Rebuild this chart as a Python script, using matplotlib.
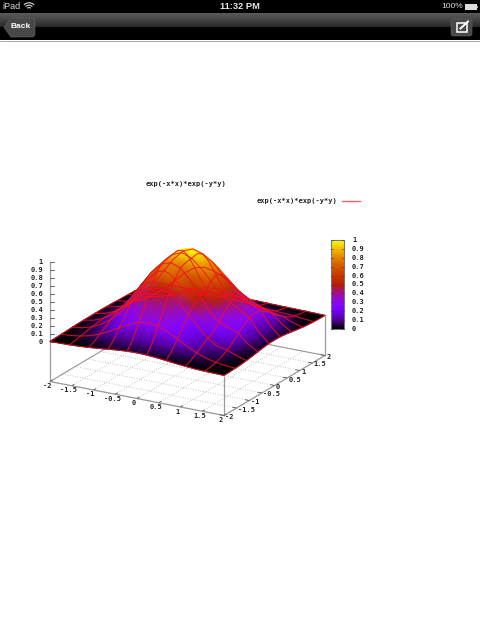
import numpy as np
import matplotlib
matplotlib.use("Agg")
import matplotlib.pyplot as plt
from matplotlib.colors import LinearSegmentedColormap
from matplotlib.patches import Arc, FancyBboxPatch, Polygon, Rectangle
from matplotlib.tri import Triangulation

# profiles read off the plot along one axis from -2 to 2, step 2/9
# across a crest the surface falls fast, along it towards the front corner it falls slowly
narrow_profile = [0.018, 0.042, 0.089, 0.169, 0.291, 0.454, 0.641, 0.821, 0.952, 1.0,
                  0.952, 0.821, 0.641, 0.454, 0.291, 0.169, 0.089, 0.042, 0.018]
height_left = [0.018, 0.042, 0.089, 0.169, 0.291, 0.454, 0.641, 0.821, 0.952, 1.0,
               0.99, 0.98, 0.95, 0.84, 0.71, 0.53, 0.36, 0.19, 0.07]
height_right = [0.018, 0.042, 0.089, 0.169, 0.291, 0.454, 0.641, 0.821, 0.952, 1.0,
                0.96, 0.88, 0.74, 0.60, 0.51, 0.43, 0.36, 0.19, 0.07]
# palette level seen at the same places, it jumps across the second crest on the left
colour_left = [0.018, 0.042, 0.089, 0.169, 0.291, 0.454, 0.641, 0.821, 0.952, 1.0,
               0.96, 0.88, 0.80, 0.74, 0.50, 0.40, 0.30, 0.12, 0.03]
colour_right = [0.018, 0.042, 0.089, 0.169, 0.291, 0.454, 0.641, 0.821, 0.952, 1.0,
                0.96, 0.86, 0.72, 0.58, 0.45, 0.38, 0.30, 0.12, 0.03]
xy_ticks = [-2, -1.5, -1, -0.5, 0, 0.5, 1, 1.5, 2]
xy_tick_labels = ["-2", "-1.5", "-1", "-0.5", "0", "0.5", "1", "1.5", "2"]
z_ticks = [0, 0.1, 0.2, 0.3, 0.4, 0.5, 0.6, 0.7, 0.8, 0.9, 1]
z_tick_labels = ["0", "0.1", "0.2", "0.3", "0.4", "0.5", "0.6", "0.7", "0.8", "0.9", "1"]
palette_stops = [0, 0.1, 0.2, 0.25, 0.3, 0.4, 0.5, 0.6, 0.7, 0.8, 0.9, 1]
palette_colors = [
    (0, 0, 0), (0.32, 0, 0.59), (0.45, 0.01, 0.95), (0.5, 0.02, 1), (0.55, 0.03, 0.95),
    (0.63, 0.06, 0.59), (0.71, 0.125, 0), (0.775, 0.22, 0), (0.84, 0.34, 0),
    (0.89, 0.51, 0), (0.95, 0.73, 0), (1, 1, 0),
]
title_text = "exp(-x*x)*exp(-y*y)"

mono = "DejaVu Sans Mono"
ui = "Liberation Sans"
grey = "#9a9a9a"
red = "#f01020"
tick_size = 5.0

cmap = LinearSegmentedColormap.from_list("pm3d", list(zip(palette_stops, palette_colors)), N=512)


def project(x, y, z):
    # gnuplot view 60,30 as it lands on this screenshot, in screen pixels
    x, y, z = np.asarray(x, float), np.asarray(y, float), np.asarray(z, float)
    return 50 + (x + 2) * 43.5 + (y + 2) * 25.25, 341.5 + (x + 2) * 8.5 - (y + 2) * 15 - z * 80


fig = plt.figure(figsize=(4.8, 6.41), dpi=100)
ax = fig.add_axes([0, 0, 1, 1])


def line3(xs, ys, zs, **kw):
    px, py = project(xs, ys, zs)
    ax.plot(px, py, solid_capstyle="butt", **kw)


# y runs the other way round: y=-2 is the front edge
Z = np.maximum(np.outer(height_left[::-1], narrow_profile), np.outer(narrow_profile, height_right))
C = np.maximum(np.outer(colour_left[::-1], narrow_profile), np.outer(narrow_profile, colour_right))
n = Z.shape[0]
grid = np.linspace(-2, 2, n)
X, Y = np.meshgrid(grid, grid)
base = -0.5

# dotted floor grid first
for t in xy_ticks:
    line3([t, t], [-2, 2], [base, base], color="#b4b4b4", lw=0.6, ls=(0, (1, 2)), zorder=1)
    line3([-2, 2], [t, t], [base, base], color="#b4b4b4", lw=0.6, ls=(0, (1, 2)), zorder=1)

# box edges
line3([-2, 2, 2], [-2, -2, 2], [base, base, base], color=grey, lw=0.9, zorder=2)
line3([-2, -2, 2], [-2, 2, 2], [base, base, base], color=grey, lw=0.8, zorder=2)
line3([-2, -2], [-2, -2], [base, 1], color=grey, lw=0.9, zorder=2)
line3([2, 2], [-2, -2], [base, 0], color=grey, lw=0.9, zorder=2)
line3([2, 2], [2, 2], [base, 0], color=grey, lw=0.9, zorder=2)

for t, lab in zip(xy_ticks, xy_tick_labels):
    line3([t, t], [-2, -1.9], [base, base], color="#555555", lw=0.6, zorder=2)
    line3([2, 1.9], [t, t], [base, base], color="#555555", lw=0.6, zorder=2)
    px, py = project(t, -2, base)
    ax.text(px - 3, py + 4.5, lab, family=mono, weight="bold", fontsize=tick_size, color="#222222",
            ha="center", va="center")
    px, py = project(2, t, base)
    ax.text(px + 1.5, py + 1.5, lab, family=mono, weight="bold", fontsize=tick_size, color="#222222",
            ha="left", va="center")

for t, lab in zip(z_ticks, z_tick_labels):
    px, py = project(-2, -2, t)
    ax.plot([px, px + 4], [py, py], color="#555555", lw=0.6, zorder=2)
    ax.text(px - 7, py, lab, family=mono, weight="bold", fontsize=tick_size, color="#222222",
            ha="right", va="center")

# pm3d surface, triangles in back to front order so the hump hides what is behind it
tris = []
idx = np.arange(n * n).reshape(n, n)
for j in range(n - 2, -1, -1):
    for i in range(n - 1):
        tris.append([idx[j, i], idx[j, i + 1], idx[j + 1, i + 1]])
        tris.append([idx[j, i], idx[j + 1, i + 1], idx[j + 1, i]])
sx, sy = project(X, Y, Z)
tri = Triangulation(sx.ravel(), sy.ravel(), np.array(tris))
ax.tripcolor(tri, C.ravel(), shading="gouraud", cmap=cmap, vmin=0, vmax=1, zorder=3)

# isolines sit on top of everything, gnuplot does not hide them
for k in range(0, n, 2):
    ax.plot(sx[k], sy[k], color=red, lw=0.75, alpha=0.85, zorder=4)
    ax.plot(sx[:, k], sy[:, k], color=red, lw=0.75, alpha=0.85, zorder=4)

# title and key
ax.text(186, 184, title_text, family=mono, weight="bold", fontsize=tick_size, color="#222222",
        ha="center", va="center")
ax.text(337, 201, title_text, family=mono, weight="bold", fontsize=tick_size, color="#222222",
        ha="right", va="center")
ax.plot([342, 360], [201, 201], color="#ff6070", lw=1.0)

# colour box
cb_left, cb_right, cb_top, cb_bottom = 331, 344, 240, 329
ax.imshow(np.linspace(1, 0, 256).reshape(-1, 1), cmap=cmap, vmin=0, vmax=1, aspect="auto",
          extent=[cb_left, cb_right, cb_bottom, cb_top], zorder=3)
ax.add_patch(Rectangle((cb_left, cb_top), cb_right - cb_left, cb_bottom - cb_top, fill=False,
                       ec="#777777", lw=0.8, zorder=4))
for t, lab in zip(z_ticks, z_tick_labels):
    py = cb_bottom + (cb_top - cb_bottom) * t
    ax.plot([cb_left, cb_left + 2], [py, py], color="#333333", lw=0.4, zorder=5)
    ax.plot([cb_right - 2, cb_right], [py, py], color="#333333", lw=0.4, zorder=5)
    ax.text(352, py, lab, family=mono, weight="bold", fontsize=tick_size, color="#222222",
            ha="left", va="center")

# ipad status bar and nav bar
ax.add_patch(Rectangle((0, 0), 480, 40, fc="black", ec="none", zorder=6))
ax.imshow(np.linspace(0.36, 0.16, 64).reshape(-1, 1), cmap="gray", vmin=0, vmax=1, aspect="auto",
          extent=[0, 480, 27, 13], zorder=7)
ax.plot([0, 480], [40.5, 40.5], color="#888888", lw=0.5, zorder=7)

back = Polygon([(4, 27.5), (11, 18), (33, 18), (35, 20), (35, 35), (33, 37), (11, 37)],
               closed=True, fc="#484848", ec="#666666", lw=0.4, zorder=8)
ax.add_patch(back)
ax.text(20.5, 27, "Back", family=ui, weight="bold", fontsize=6, color="white",
        ha="center", va="center", zorder=9)
ax.add_patch(FancyBboxPatch((451, 19), 21, 17, boxstyle="round,pad=0,rounding_size=2.5",
                            fc="#484848", ec="#666666", lw=0.4, zorder=8))
ax.add_patch(Rectangle((457, 22.5), 9.5, 9.5, fill=False, ec="white", lw=1.1, zorder=9))
ax.plot([460.5, 468], [28.5, 21.5], color="white", lw=1.4, zorder=10)

ax.text(2, 6.5, "iPad", family=ui, fontsize=6.5, color="#dddddd", ha="left", va="center", zorder=9)
for r in [3, 6, 9]:
    ax.add_patch(Arc((29, 10), r * 1.6, r * 1.6, theta1=225, theta2=315, color="#dddddd", lw=0.8,
                     zorder=9))
ax.text(239.5, 6.5, "11:32 PM", family=ui, weight="bold", fontsize=6.7, color="#e8e8e8",
        ha="center", va="center", zorder=9)
ax.text(463, 6.5, "100%", family=ui, fontsize=6, color="#dddddd", ha="right", va="center", zorder=9)
ax.add_patch(Rectangle((464.5, 4), 12, 5.5, fc="#dddddd", ec="none", zorder=9))
ax.add_patch(Rectangle((476.5, 5.5), 1.2, 2.5, fc="#aaaaaa", ec="none", zorder=9))

ax.set_xlim(0, 480)
ax.set_ylim(641, 0)
ax.axis("off")
fig.savefig("out.png", dpi=100, facecolor="white")
